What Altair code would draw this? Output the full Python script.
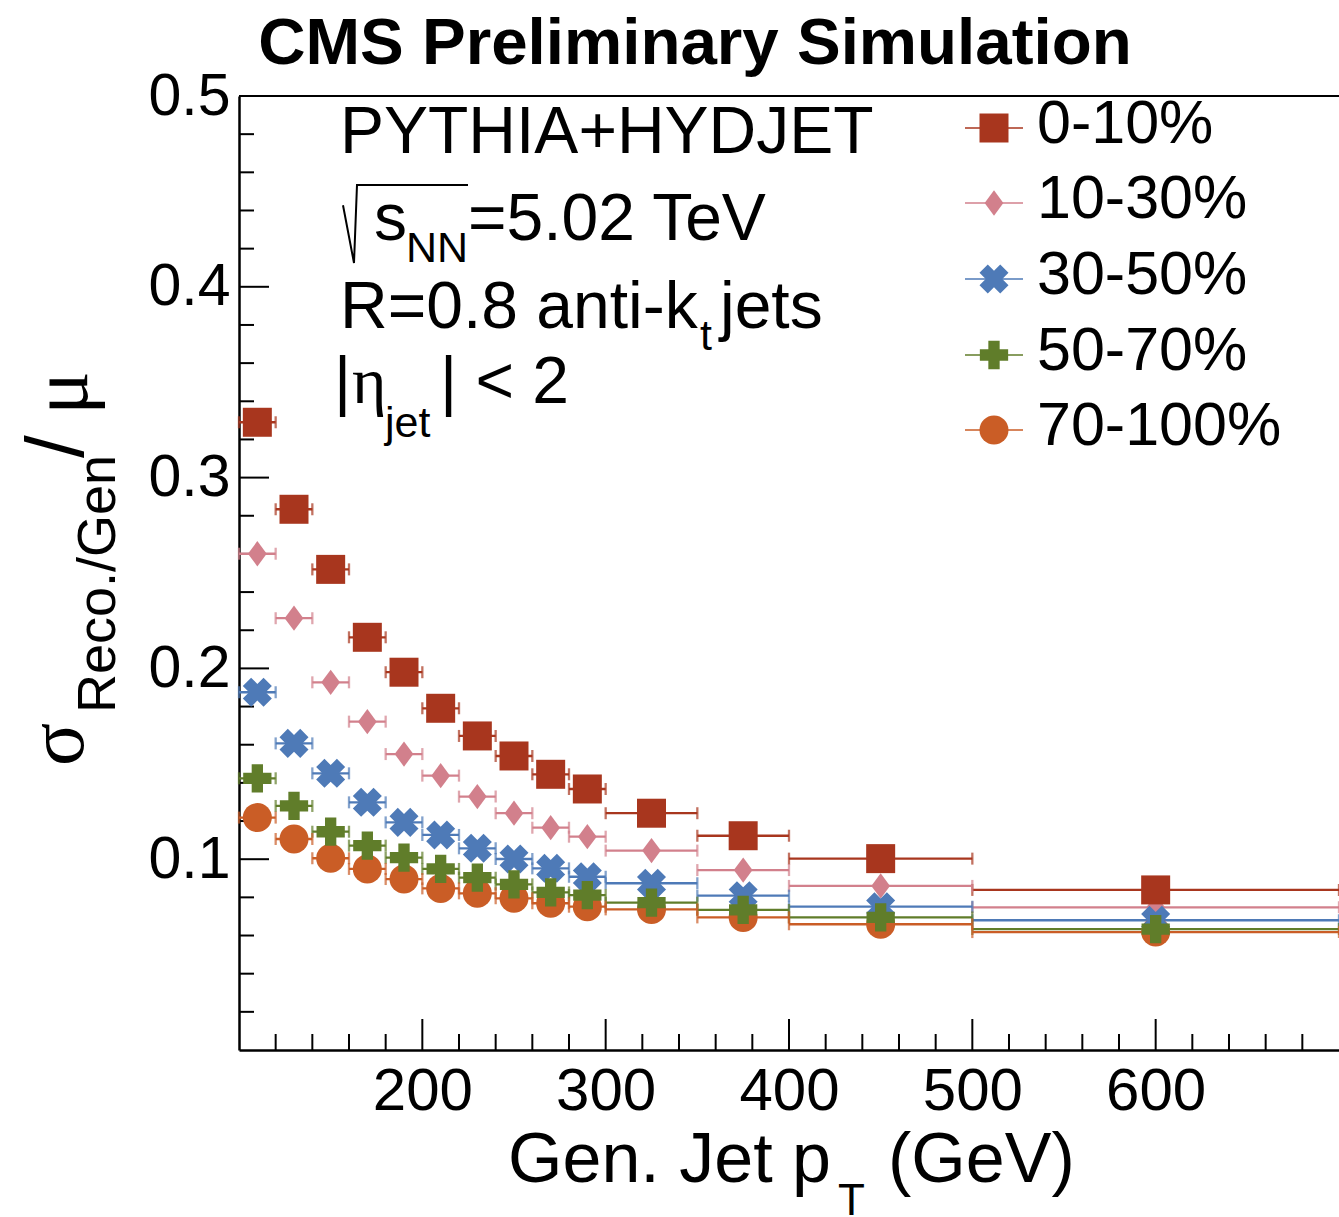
import altair as alt
import pandas as pd

# Generated-jet pT bins (GeV)
pt_lo = [100, 120, 140, 160, 180, 200, 220, 240, 260, 280, 300, 350, 400, 500]
pt_hi = [120, 140, 160, 180, 200, 220, 240, 260, 280, 300, 350, 400, 500, 700]
pt_center = [110, 130, 150, 170, 190, 210, 230, 250, 270, 290, 325, 375, 450, 600]

# Relative jet energy resolution per centrality class
centrality = ["0-10%", "10-30%", "30-50%", "50-70%", "70-100%"]
res_0_10 = [0.329, 0.2834, 0.2519, 0.2163, 0.198, 0.1791, 0.1646, 0.1541, 0.1445, 0.1368, 0.1241, 0.1123, 0.1003, 0.0839]
res_10_30 = [0.2601, 0.2263, 0.1927, 0.1721, 0.1551, 0.1438, 0.1328, 0.1241, 0.1165, 0.1118, 0.1045, 0.0943, 0.086, 0.0748]
res_30_50 = [0.1875, 0.1607, 0.145, 0.1298, 0.1193, 0.1127, 0.1057, 0.1001, 0.0952, 0.0908, 0.0874, 0.0809, 0.0751, 0.068]
res_50_70 = [0.1424, 0.1279, 0.1144, 0.1071, 0.1008, 0.0949, 0.0903, 0.0868, 0.0826, 0.0812, 0.0772, 0.0734, 0.0695, 0.0634]
res_70_100 = [0.1218, 0.1106, 0.1005, 0.0949, 0.0896, 0.0847, 0.0821, 0.0795, 0.0769, 0.0751, 0.0737, 0.0695, 0.0659, 0.0618]
series_values = [res_0_10, res_10_30, res_30_50, res_50_70, res_70_100]

colors = ["#A8361E", "#D2808C", "#4E7AB7", "#607D2A", "#CA5D26"]

# Axis tick positions
x_major = [200, 300, 400, 500, 600]
x_minor = [v for v in range(120, 700, 20) if v % 100 != 0]
y_major = [0.1, 0.2, 0.3, 0.4, 0.5]
y_minor = [round(0.02 * i, 2) for i in range(1, 25) if i % 5 != 0]

W, H = 1100, 954          # plot area
OX, OY = 239, 96          # plot origin inside the page
SANS = "Liberation Sans"
SERIF = "Liberation Serif"

# Marker style per series: (shape, size, angle)
DIAMOND = "M0,-1L0.74,0L0,1L-0.74,0Z"
markers = [
    ("square", 841, 0),
    (DIAMOND, 640, 0),
    ("cross", 860, 45),
    ("cross", 800, 0),
    ("circle", 841, 0),
]

xscale = alt.Scale(domain=[100, 700], nice=False, zero=False)
yscale = alt.Scale(domain=[0, 0.5], nice=False, zero=False)
xaxis = alt.Axis(values=x_major, format="d", title=None, grid=False, ticks=False,
                 labelFont=SANS, labelFontSize=60, labelColor="black", labelPadding=12,
                 domainColor="black", domainWidth=2.5)
yaxis = alt.Axis(values=y_major, format=".1f", title=None, grid=False, ticks=False,
                 labelFont=SANS, labelFontSize=59, labelColor="black", labelPadding=9,
                 domainColor="black", domainWidth=2.5)


def X(field):
    return alt.X(field, scale=xscale, axis=xaxis)


def Y(field):
    return alt.Y(field, scale=yscale, axis=yaxis)


frames = []
for name, vals in zip(centrality, series_values):
    frames.append(pd.DataFrame({"pt": pt_center, "lo": pt_lo, "hi": pt_hi, "res": vals, "cent": name}))

one = pd.DataFrame({"k": [0]})


def txt(s, x, y, size, font=SANS, weight="normal", align="left", angle=0, baseline="alphabetic"):
    kw = dict(text=s, font=font, fontSize=size, fontWeight=weight, align=align,
              baseline=baseline, color="black")
    if angle:
        kw["angle"] = angle
    return alt.Chart(one).mark_text(**kw).encode(
        x=alt.value(x - OX), y=alt.value(y - OY))


layers = []

# Axes (labels and domain lines)
layers.append(alt.Chart(frames[0]).mark_point(opacity=0).encode(x=X("pt:Q"), y=Y("res:Q")))

# Inward-pointing ticks
layers.append(alt.Chart(pd.DataFrame({"v": x_major})).mark_rule(color="black", strokeWidth=2).encode(
    x=X("v:Q"), y=alt.value(H), y2=alt.value(H - 31)))
layers.append(alt.Chart(pd.DataFrame({"v": x_minor})).mark_rule(color="black", strokeWidth=2).encode(
    x=X("v:Q"), y=alt.value(H), y2=alt.value(H - 16)))
layers.append(alt.Chart(pd.DataFrame({"v": y_major})).mark_rule(color="black", strokeWidth=2).encode(
    y=Y("v:Q"), x=alt.value(0), x2=alt.value(30)))
layers.append(alt.Chart(pd.DataFrame({"v": y_minor})).mark_rule(color="black", strokeWidth=2).encode(
    y=Y("v:Q"), x=alt.value(0), x2=alt.value(15)))
layers.append(alt.Chart(one).mark_rule(color="black", strokeWidth=2).encode(
    x=alt.value(0), x2=alt.value(W), y=alt.value(0)))

# Horizontal bin-width bars with end caps
for df, col in zip(frames, colors):
    base = alt.Chart(df)
    layers.append(base.mark_rule(color=col, strokeWidth=2.3).encode(
        x=X("lo:Q"), x2="hi:Q", y=Y("res:Q")))
    for edge in ["lo", "hi"]:
        layers.append(base.mark_tick(color=col, orient="vertical", size=12, thickness=2.3).encode(
            x=X(f"{edge}:Q"), y=Y("res:Q")))

# Markers (drawn so the most central class ends on top)
for idx in [4, 1, 2, 3, 0]:
    shape, size, ang = markers[idx]
    mk = dict(shape=shape, size=size, filled=True, color=colors[idx], opacity=1)
    if ang:
        mk["angle"] = ang
    layers.append(alt.Chart(frames[idx]).mark_point(**mk).encode(x=X("pt:Q"), y=Y("res:Q")))

# Legend
legend_rows = [128, 203, 279, 355, 430]
for idx, ry in enumerate(legend_rows):
    shape, size, ang = markers[idx]
    layers.append(alt.Chart(one).mark_rule(color=colors[idx], strokeWidth=1.6).encode(
        x=alt.value(965 - OX), x2=alt.value(1023 - OX), y=alt.value(ry - OY)))
    mk = dict(shape=shape, size=size, filled=True, color=colors[idx], opacity=1)
    if ang:
        mk["angle"] = ang
    layers.append(alt.Chart(one).mark_point(**mk).encode(
        x=alt.value(994 - OX), y=alt.value(ry - OY)))
    layers.append(txt(centrality[idx], 1037, ry + 15, 61))

# Header and physics labels
layers.append(txt("CMS Preliminary Simulation", 695, 64, 65.5, weight="bold", align="center"))
layers.append(txt("PYTHIA+HYDJET", 340, 153, 66))
RADICAL = "M-1,-0.3L-0.824,0.624L-0.776,-0.624L1,-0.624"
layers.append(alt.Chart(one).mark_point(shape=RADICAL, size=125 * 125, filled=False,
                                        color="black", strokeWidth=2, opacity=1).encode(
    x=alt.value(405.5 - OX), y=alt.value(224 - OY)))
layers.append(txt("s", 374, 240, 66))
layers.append(txt("NN", 406, 262, 43))
layers.append(txt("=5.02 TeV", 468, 240, 66))
layers.append(txt("R=0.8 anti-k", 340, 328, 66))
layers.append(txt("t", 700, 350, 43))
layers.append(txt("jets", 720, 328, 66))
layers.append(txt("|", 334, 403, 66))
layers.append(txt("η", 352, 403, 66, font=SERIF))
layers.append(txt("jet", 385, 437, 43))
layers.append(txt("| < 2", 440, 403, 66))

# Axis titles
layers.append(txt("Gen. Jet p", 508, 1182, 70))
layers.append(txt("T", 838, 1215, 44))
layers.append(txt("(GeV)", 888, 1182, 70))
layers.append(txt("σ", 83, 766, 80, font=SERIF, angle=270))
layers.append(txt("Reco./Gen", 115, 713, 54, angle=270))
layers.append(txt("/", 83, 458, 82, angle=270))
layers.append(txt("μ", 87, 415, 82, font=SERIF, angle=270))

chart = alt.layer(*layers).properties(
    width=W, height=H,
    autosize=alt.AutoSizeParams(type="none"),
    padding={"left": OX, "top": OY, "right": 0, "bottom": 1217 - OY - H},
    background="white",
).configure_view(stroke=None)

chart.save("out.html", embed_options={"renderer": "svg", "actions": False})
